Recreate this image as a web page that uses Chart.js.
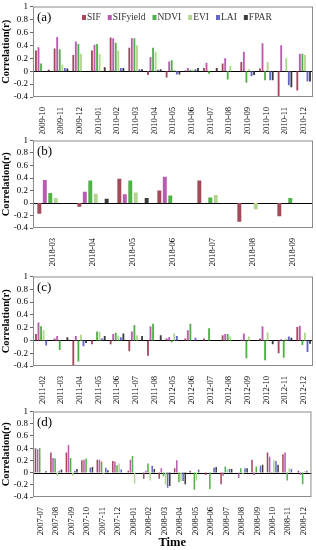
<!DOCTYPE html>
<html>
<head>
<meta charset="utf-8">
<script src="https://cdn.jsdelivr.net/npm/chart.js@4"></script>
<style>
    body { margin: 0; background: #fff; width: 316px; height: 550px; position: relative; overflow: hidden; }
    canvas { position: absolute; left: 0; }
</style>
</head>
<body>
<canvas id="chartA" width="316" height="134" style="top:0"></canvas>
<canvas id="chartB" width="316" height="136" style="top:134px"></canvas>
<canvas id="chartC" width="316" height="135" style="top:270px"></canvas>
<canvas id="chartD" width="316" height="145" style="top:405px"></canvas>
<script>
// ---------- data ----------
const seriesNames = ["SIF", "SIFyield", "NDVI", "EVI", "LAI", "FPAR"];
const seriesColors = ["#a4485a", "#b85cb0", "#52b048", "#b2d690", "#6466c8", "#3c3c3c"];
const yTickLabels = ["-0.4", "-0.2", "0", "0.2", "0.4", "0.6", "0.8", "1"];

// (a)
const monthsA = ["2009-10", "2009-11", "2009-12", "2010-01", "2010-02", "2010-03", "2010-04", "2010-05",
    "2010-06", "2010-07", "2010-08", "2010-09", "2010-10", "2010-11", "2010-12"];
const sifA      = [0.32, 0.35, 0.25, 0.32, 0.52, 0.36, -0.06, -0.10, 0.01, 0.05, 0.12, 0.14, 0.04, -0.42, -0.30];
const sifyieldA = [0.37, 0.53, 0.46, 0.41, 0.51, 0.51, 0.22, 0.15, 0.05, 0.13, 0.20, 0.30, 0.43, 0.40, 0.27];
const ndviA     = [0.12, 0.34, 0.42, 0.42, 0.44, 0.51, 0.36, 0.17, 0.02, -0.04, -0.13, -0.18, -0.14, 0.00, 0.27];
const eviA      = [0.00, 0.10, 0.27, 0.27, 0.32, 0.40, 0.30, 0.02, 0.02, 0.00, 0.08, 0.03, 0.14, 0.20, 0.25];
const laiA      = [0.00, 0.05, 0.00, 0.00, 0.05, 0.03, 0.02, -0.05, 0.03, 0.00, 0.00, -0.08, -0.14, -0.22, -0.16];
const fparA     = [0.02, 0.04, 0.00, 0.06, 0.05, 0.03, 0.03, -0.05, 0.05, 0.05, 0.00, -0.06, -0.14, -0.25, -0.16];

// (b)
const monthsB = ["2018-03", "2018-04", "2018-05", "2018-06", "2018-07", "2018-08", "2018-09"];
const sifB      = [-0.17, -0.06, 0.39, 0.20, 0.36, -0.30, -0.21];
const sifyieldB = [0.37, 0.18, 0.14, 0.42, 0.00, 0.00, 0.00];
const ndviB     = [0.16, 0.36, 0.36, 0.12, 0.09, 0.00, 0.08];
const eviB      = [0.08, 0.15, 0.17, 0.00, 0.13, -0.10, 0.00];
const laiB      = [0, 0, 0, 0, 0, 0, 0];
const fparB     = [0.00, 0.07, 0.08, 0.00, 0.00, 0.00, 0.00];

// (c)
const monthsC = ["2011-02", "2011-03", "2011-04", "2011-05", "2011-06", "2011-07", "2011-08", "2012-05",
    "2012-06", "2012-07", "2012-08", "2012-09", "2012-10", "2012-11", "2012-12"];
const sifC      = [0.10, 0.03, -0.40, -0.06, -0.06, -0.17, -0.24, 0.03, 0.03, 0.03, 0.08, 0.01, 0.03, -0.20, 0.21];
const sifyieldC = [0.28, 0.07, 0.07, 0.00, 0.10, 0.14, 0.22, 0.05, 0.16, 0.00, 0.10, 0.11, 0.22, 0.02, 0.23];
const ndviC     = [0.22, -0.15, -0.33, 0.14, 0.12, 0.24, 0.26, -0.03, 0.26, 0.19, 0.10, -0.28, -0.31, -0.27, -0.07];
const eviC      = [0.16, 0.00, 0.09, 0.13, 0.07, 0.08, 0.00, 0.11, 0.00, 0.00, 0.06, 0.06, 0.12, 0.03, 0.12];
const laiC      = [-0.08, 0.00, -0.09, 0.03, 0.05, 0.00, 0.00, 0.07, 0.04, 0.00, 0.00, 0.00, 0.00, 0.06, -0.18];
const fparC     = [0.00, 0.05, -0.04, 0.07, 0.11, 0.07, 0.08, 0.00, 0.00, 0.00, 0.00, 0.00, -0.06, 0.04, -0.05];

// (d)
const monthsD = ["2007-07", "2007-08", "2007-09", "2007-10", "2007-11", "2007-12", "2008-01", "2008-02", "2008-03",
    "2008-04", "2008-05", "2008-06", "2008-07", "2008-08", "2008-09", "2008-10", "2008-11", "2008-12"];
const sifD      = [0.40, 0.33, 0.33, 0.20, 0.21, 0.19, 0.03, -0.10, -0.10, 0.07, 0.03, -0.04, -0.19, 0.00, 0.21, 0.33, 0.30, 0.03];
const sifyieldD = [0.38, 0.24, 0.45, 0.21, 0.21, 0.18, 0.21, 0.03, 0.07, 0.20, 0.00, 0.00, -0.05, -0.09, -0.04, 0.26, 0.33, -0.04];
const ndviD     = [0.40, 0.23, 0.24, 0.23, 0.18, 0.12, 0.27, 0.15, -0.06, -0.16, -0.28, -0.27, 0.10, 0.07, 0.10, 0.01, -0.13, -0.19];
const eviD      = [0.00, -0.05, -0.05, 0.00, -0.02, 0.15, -0.18, -0.13, -0.20, -0.14, -0.13, 0.00, 0.05, -0.03, 0.00, 0.20, 0.07, 0.02];
const laiD      = [0.00, 0.03, 0.03, 0.08, 0.08, 0.05, 0.00, 0.11, -0.25, -0.14, 0.05, 0.08, 0.06, 0.07, 0.11, 0.19, 0.06, 0.03];
const fparD     = [0.02, 0.05, 0.06, 0.09, 0.04, 0.00, 0.00, 0.06, -0.22, -0.19, 0.00, 0.09, 0.06, 0.07, 0.13, 0.13, 0.00, 0.00];

// ---------- helpers ----------
const SERIF = '"Liberation Serif", "Times New Roman", serif';

function buildDatasets(series) {
    return series.map((values, i) => ({
        label: seriesNames[i],
        data: values,
        backgroundColor: seriesColors[i],
        borderWidth: 0,
        categoryPercentage: 0.82,
        barPercentage: 0.72
    }));
}

// frame, zero line, panel tag and (optional) legend drawn inside the plot
const panelDecor = {
    id: "panelDecor",
    beforeDatasetsDraw(chart) {
        const { ctx, chartArea: a, scales } = chart;
        const y0 = Math.round(scales.y.getPixelForValue(0)) + 0.5;
        ctx.save();
        ctx.strokeStyle = "#000";
        ctx.lineWidth = 1;
        ctx.beginPath();
        ctx.moveTo(a.left, y0);
        ctx.lineTo(a.right, y0);
        ctx.stroke();
        ctx.restore();
    },
    afterDatasetsDraw(chart, args, opts) {
        const { ctx, chartArea: a } = chart;
        ctx.save();
        ctx.strokeStyle = "#8a8a8a";
        ctx.lineWidth = 1;
        ctx.strokeRect(a.left + 0.5, a.top + 0.5, a.width - 1, a.height - 1);

        ctx.fillStyle = "#000";
        ctx.font = "13px " + SERIF;
        ctx.textBaseline = "middle";
        ctx.fillText(opts.tag, a.left + 4, a.top + 11);

        if (opts.legend) {
            ctx.font = "9.5px " + SERIF;
            let x = 82;
            const y = a.top + 11;
            chart.data.datasets.forEach(ds => {
                ctx.fillStyle = ds.backgroundColor;
                ctx.fillRect(x, y - 2.5, 4, 5);
                ctx.fillStyle = "#333";
                ctx.fillText(ds.label, x + 5, y);
                x += 5 + ctx.measureText(ds.label).width + 7;
            });
        }
        ctx.restore();
    }
};

function makePanel(canvasId, months, series, opts) {
    return new Chart(document.getElementById(canvasId), {
        type: "bar",
        data: {
            labels: months,
            datasets: buildDatasets(series)
        },
        plugins: [panelDecor],
        options: {
            responsive: false,
            animation: false,
            layout: { padding: { top: opts.top, right: 3, left: 0, bottom: 0 } },
            plugins: {
                legend: { display: false },
                tooltip: { enabled: false },
                panelDecor: { tag: opts.tag, legend: !!opts.legend }
            },
            scales: {
                x: {
                    grid: { display: false },
                    border: { display: false },
                    ticks: {
                        color: "#000",
                        font: { family: SERIF, size: 8.5 },
                        minRotation: 90,
                        maxRotation: 90,
                        autoSkip: false,
                        padding: 2
                    },
                    title: opts.xTitle ? {
                        display: true,
                        text: opts.xTitle,
                        color: "#000",
                        font: { family: SERIF, size: 12.5, weight: "bold" },
                        padding: { top: 2, bottom: 0 }
                    } : { display: false },
                    afterFit(scale) { scale.height = opts.xHeight; }
                },
                y: {
                    min: -0.4,
                    max: 1,
                    grid: { display: true, drawOnChartArea: false, drawTicks: true, tickLength: 3, color: "#666" },
                    border: { display: false },
                    ticks: {
                        color: "#000",
                        font: { family: SERIF, size: 9, lineHeight: 1 },
                        padding: 2,
                        stepSize: 0.2,
                        maxTicksLimit: 20,
                        autoSkip: false,
                        callback: (v, i) => yTickLabels[i]
                    },
                    title: {
                        display: true,
                        text: "Correlation(r)",
                        color: "#000",
                        font: { family: SERIF, size: 10.5, weight: "bold" },
                        padding: { top: 0, bottom: 1 }
                    },
                    afterFit(scale) { scale.width = 33; }
                }
            }
        }
    });
}

// ---------- draw ----------
makePanel("chartA", monthsA, [sifA, sifyieldA, ndviA, eviA, laiA, fparA],
    { tag: "(a)", top: 4, xHeight: 37, legend: true });
makePanel("chartB", monthsB, [sifB, sifyieldB, ndviB, eviB, laiB, fparB],
    { tag: "(b)", top: 2, xHeight: 42 });
makePanel("chartC", monthsC, [sifC, sifyieldC, ndviC, eviC, laiC, fparC],
    { tag: "(c)", top: 3, xHeight: 39 });
makePanel("chartD", monthsD, [sifD, sifyieldD, ndviD, eviD, laiD, fparD],
    { tag: "(d)", top: 3, xHeight: 53, xTitle: "Time" });
</script>
</body>
</html>
